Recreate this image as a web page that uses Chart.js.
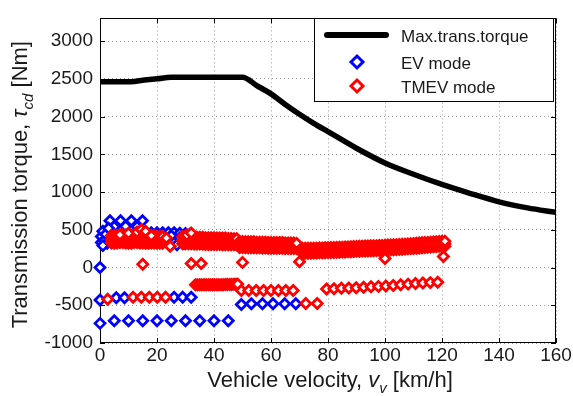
<!DOCTYPE html>
<html>
<head>
<meta charset="utf-8">
<script src="https://cdn.jsdelivr.net/npm/chart.js@4.4.0/dist/chart.umd.min.js"></script>
<style>
  html, body { margin: 0; padding: 0; background: #fff; }
  #wrap { width: 573px; height: 396px; }
</style>
</head>
<body>
<div id="wrap"><canvas id="torqueChart" width="573" height="396"></canvas></div>
<script>
// axis ticks
const xTicks = [0, 20, 40, 60, 80, 100, 120, 140, 160];
const yTicks = [-1000, -500, 0, 500, 1000, 1500, 2000, 2500, 3000];

// max transmission torque curve
const maxTorqueV = [0, 10, 12, 15, 20, 25, 30, 40, 50, 55, 60, 65, 70, 75, 80, 90, 100, 110, 120, 130, 140, 150, 160];
const maxTorqueT = [2460, 2460, 2465, 2480, 2500, 2520, 2520, 2520, 2520, 2410, 2300, 2160, 2030, 1910, 1800, 1580, 1385, 1235, 1100, 980, 870, 790, 730];

// EV mode operating points
const evV = [0, 0, 5, 10, 15, 20, 25, 30, 35, 40, 45,
  0, 5.7, 8.6, 26, 29, 32,
  49.6, 53.1, 57, 60.7, 64.8, 68.7,
  0.5, 0.5, 1, 1.5, 2, 2.5, 1,
  3.5, 7.2, 11, 14.9, 5, 9, 13, 3,
  18, 20, 22, 24, 26, 28, 30, 31.5, 28, 29.5, 27, 21, 25];
const evT = [0, -740, -705, -705, -705, -705, -705, -705, -705, -705, -705,
  -430, -400, -400, -395, -395, -395,
  -490, -480, -480, -480, -480, -480,
  330, 410, 480, 360, 440, 320, 290,
  620, 620, 620, 620, 540, 545, 540, 520,
  460, 460, 460, 460, 460, 455, 450, 440, 390, 320, 300, 400, 420];

// TMEV mode: dense band (upper, middle, lower rows)
const tmevBandV = [
  4, 5, 6, 7, 8, 9, 10, 11, 12, 13, 14, 15, 16, 17, 18, 19, 20, 21, 22,
  29, 30, 31, 32, 33, 34, 35, 36, 37, 38, 39, 40, 41, 42, 43, 44, 45, 46, 47, 48,
  49, 50, 51, 52, 53, 54, 55, 56, 57, 58, 59, 60, 61, 62, 63, 64, 65, 66, 67, 68, 69,
  71, 72, 73, 74, 75, 76, 77, 78, 79, 80,
  81, 82, 83, 84, 85, 86, 87, 88, 89, 90,
  91, 92, 93, 94, 95, 96, 97, 98, 99, 100,
  101, 102, 103, 104, 105, 106, 107, 108, 109, 110,
  111, 112, 113, 114, 115, 116, 117, 118, 119, 120, 121];
const tmevBandHi = [
  420, 425, 425, 430, 435, 430, 425, 425, 430, 430, 425, 425, 420, 420, 420, 420, 415, 410, 410,
  410, 410, 405, 405, 400, 400, 400, 400, 395, 395, 395, 395, 390, 390, 390, 390, 385, 385, 380, 380,
  345, 345, 340, 340, 340, 340, 335, 335, 335, 335, 330, 330, 330, 330, 330, 330, 325, 325, 325, 325, 320,
  255, 255, 255, 255, 257, 257, 259, 259, 261, 262,
  264, 265, 267, 268, 270, 271, 273, 275, 277, 279,
  281, 282, 284, 285, 287, 288, 290, 291, 293, 295,
  297, 299, 301, 303, 305, 307, 310, 312, 315, 318,
  321, 324, 327, 330, 333, 336, 339, 342, 345, 347, 348];
const tmevBandMid = [
  370, 375, 375, 380, 380, 375, 375, 375, 380, 380, 375, 370, 370, 375, 375, 370, 370, 365, 365,
  360, 360, 360, 360, 355, 355, 355, 355, 350, 350, 350, 350, 350, 350, 345, 345, 345, 345, 340, 340,
  305, 305, 300, 300, 300, 300, 300, 300, 295, 295, 295, 295, 295, 295, 290, 290, 290, 290, 290, 290, 285,
  222, 222, 222, 222, 224, 224, 226, 226, 228, 229,
  231, 232, 234, 235, 237, 238, 240, 242, 244, 246,
  248, 249, 251, 252, 254, 255, 257, 258, 260, 262,
  264, 266, 268, 270, 272, 274, 277, 279, 282, 285,
  288, 291, 294, 297, 300, 303, 306, 309, 312, 314, 315];
const tmevBandLo = [
  325, 320, 325, 330, 330, 325, 320, 320, 330, 330, 325, 325, 320, 320, 325, 325, 320, 320, 320,
  315, 315, 315, 315, 310, 310, 310, 310, 305, 305, 305, 305, 305, 305, 300, 300, 300, 300, 300, 300,
  265, 265, 262, 262, 260, 260, 260, 260, 258, 258, 255, 255, 255, 255, 255, 255, 252, 252, 250, 250, 250,
  190, 190, 190, 190, 192, 192, 194, 194, 196, 197,
  199, 200, 202, 203, 205, 206, 208, 210, 212, 214,
  216, 217, 219, 220, 222, 223, 225, 226, 228, 230,
  232, 234, 236, 238, 240, 242, 245, 247, 250, 253,
  256, 259, 262, 265, 268, 271, 274, 277, 280, 282, 283];

// TMEV mode: scattered points and lower rows
const tmevV = [7, 10, 13, 14.5, 16, 18, 23.3, 24.6, 30.5, 32,
  15, 32, 35.5, 50, 70, 100, 120.5,
  2.7, 11.6, 14.5, 17.3, 20.1, 23,
  33.5, 34.2, 35, 35.7, 36.5, 37.2, 38, 38.7, 39.5, 40.2, 41, 41.7, 42.5, 43.2, 44, 44.7, 45.5, 46.2, 47, 47.7, 48.3,
  49.6, 52.2, 54.8, 57.4, 60, 62.6, 65.2, 67.8,
  72.2, 76.2,
  79.5, 82.1, 84.7, 87.3, 89.9, 92.5, 95.1, 97.7, 100.3, 102.9, 105.5, 108.1, 110.7, 113.3, 115.9, 118.5];
const tmevT = [435, 455, 470, 500, 480, 420, 390, 283, 430, 456,
  43, 52, 52, 68, 75, 120, 145,
  -420, -395, -395, -395, -395, -395,
  -228, -228, -228, -228, -228, -228, -228, -228, -228, -228, -228, -228, -228, -228, -226, -226, -224, -224, -222, -222, -220,
  -305, -305, -305, -305, -305, -305, -305, -305,
  -478, -478,
  -285, -280, -276, -272, -268, -262, -256, -250, -244, -237, -228, -220, -212, -205, -200, -196];

function pairs(xs, ys) {
  return xs.map((x, i) => ({ x: x, y: ys[i] }));
}

const FONT = "'Liberation Sans', Arial, Helvetica, sans-serif";
const TXT = '#1a1a1a';
const BLUE = 'rgb(0,0,255)';
const RED = 'rgb(255,0,0)';

Chart.defaults.font.family = FONT;
Chart.defaults.color = TXT;

// draws a label made of normal / italic / subscript pieces, centred on x
function drawRich(ctx, parts, x, y, size) {
  const fontOf = p => (p.italic ? 'italic ' : '') + Math.round(p.sub ? size * 0.68 : size) + 'px ' + FONT;
  let total = 0;
  parts.forEach(p => { ctx.font = fontOf(p); total += ctx.measureText(p.t).width; });
  let cx = x - total / 2;
  ctx.textAlign = 'left';
  ctx.textBaseline = 'alphabetic';
  parts.forEach(p => {
    ctx.font = fontOf(p);
    ctx.fillText(p.t, cx, y + (p.sub ? size * 0.25 : 0));
    cx += ctx.measureText(p.t).width;
  });
}

function diamond(ctx, x, y, r, color, lw) {
  ctx.beginPath();
  ctx.moveTo(x, y - r);
  ctx.lineTo(x + r, y);
  ctx.lineTo(x, y + r);
  ctx.lineTo(x - r, y);
  ctx.closePath();
  ctx.fillStyle = '#fff';
  ctx.fill();
  ctx.lineWidth = lw;
  ctx.strokeStyle = color;
  ctx.stroke();
}

const framePlugin = {
  id: 'frame',
  beforeDatasetsDraw(chart) {
    const { ctx, chartArea: a, scales } = chart;
    ctx.save();
    ctx.strokeStyle = '#000';
    ctx.lineWidth = 1;
    ctx.beginPath();
    xTicks.forEach(v => {
      const px = Math.round(scales.x.getPixelForValue(v)) + 0.5;
      ctx.moveTo(px, a.bottom); ctx.lineTo(px, a.bottom - 5);
      ctx.moveTo(px, a.top); ctx.lineTo(px, a.top + 5);
    });
    yTicks.forEach(v => {
      const py = Math.round(scales.y.getPixelForValue(v)) + 0.5;
      ctx.moveTo(a.left, py); ctx.lineTo(a.left + 5, py);
      ctx.moveTo(a.right, py); ctx.lineTo(a.right - 5, py);
    });
    ctx.stroke();
    ctx.strokeRect(Math.round(a.left) + 0.5, Math.round(a.top) + 0.5,
      Math.round(a.width) - 1, Math.round(a.height) - 1);
    ctx.restore();
  },
  afterDraw(chart) {
    const { ctx, chartArea: a } = chart;
    ctx.save();
    ctx.fillStyle = TXT;
    // axis titles
    drawRich(ctx, [
      { t: 'Vehicle velocity, ' },
      { t: 'v', italic: true },
      { t: 'v', italic: true, sub: true },
      { t: ' [km/h]' }
    ], (a.left + a.right) / 2 + 2, 387, 22);
    ctx.save();
    ctx.translate(27, (a.top + a.bottom) / 2 + 4);
    ctx.rotate(-Math.PI / 2);
    ctx.fillStyle = TXT;
    drawRich(ctx, [
      { t: 'Transmission torque, ' },
      { t: '\u03c4', italic: true },
      { t: 'cd', italic: true, sub: true },
      { t: ' [Nm]' }
    ], 0, 0, 22);
    ctx.restore();

    // legend
    const lx = 314, ly = 18, lw = 239, lh = 83;
    ctx.fillStyle = '#fff';
    ctx.fillRect(lx, ly, lw, lh);
    ctx.strokeStyle = '#000';
    ctx.lineWidth = 1;
    ctx.strokeRect(lx + 0.5, ly + 0.5, lw, lh);
    ctx.beginPath();
    ctx.lineCap = 'round';
    ctx.lineWidth = 6;
    ctx.moveTo(327, 35);
    ctx.lineTo(386, 35);
    ctx.stroke();
    diamond(ctx, 357, 62, 6, BLUE, 3);
    diamond(ctx, 357, 86, 6, RED, 3);
    ctx.fillStyle = TXT;
    ctx.font = '17px ' + FONT;
    ctx.textAlign = 'left';
    ctx.textBaseline = 'alphabetic';
    ctx.fillText('Max.trans.torque', 401, 42);
    ctx.fillText('EV mode', 401, 68.5);
    ctx.fillText('TMEV mode', 401, 92.5);
    ctx.restore();
  }
};

const markerStyle = {
  pointStyle: 'rectRot',
  pointRadius: 5,
  pointBorderWidth: 2.8,
  pointBackgroundColor: '#fff',
  pointHoverRadius: 5,
  showLine: false,
  clip: false
};

new Chart(document.getElementById('torqueChart'), {
  type: 'scatter',
  data: {
    datasets: [
      {
        type: 'line',
        label: 'Max.trans.torque',
        data: pairs(maxTorqueV, maxTorqueT),
        borderColor: '#000',
        borderWidth: 5.5,
        pointRadius: 0,
        cubicInterpolationMode: 'monotone',
        showLine: true,
        fill: false,
        order: 0
      },
      Object.assign({
        label: 'TMEV mode',
        data: pairs(tmevBandV, tmevBandLo).concat(
          pairs(tmevBandV, tmevBandMid),
          pairs(tmevBandV, tmevBandHi),
          pairs(tmevV, tmevT)),
        borderColor: RED,
        pointBorderColor: RED,
        order: 1
      }, markerStyle),
      Object.assign({
        label: 'EV mode',
        data: pairs(evV, evT),
        borderColor: BLUE,
        pointBorderColor: BLUE,
        order: 2
      }, markerStyle)
    ]
  },
  options: {
    responsive: false,
    animation: false,
    devicePixelRatio: 1,
    layout: { padding: { left: 0, right: 17, top: 12, bottom: 0 } },
    plugins: {
      legend: { display: false },
      tooltip: { enabled: false }
    },
    scales: {
      x: {
        type: 'linear',
        min: 0,
        max: 160,
        afterFit: s => { s.height = 53; },
        afterBuildTicks: s => { s.ticks = xTicks.map(v => ({ value: v })); },
        ticks: { autoSkip: false, padding: 1, color: TXT, font: { size: 19 }, callback: v => String(v) },
        grid: { color: '#9a9a9a', lineWidth: 1, drawTicks: false },
        border: { display: false, dash: [1, 3] }
      },
      y: {
        type: 'linear',
        min: -1000,
        max: 3300,
        afterFit: s => { s.width = 100; },
        afterBuildTicks: s => { s.ticks = yTicks.map(v => ({ value: v })); },
        ticks: { autoSkip: false, padding: 7, color: TXT, font: { size: 19 }, callback: v => String(v) },
        grid: { color: '#9a9a9a', lineWidth: 1, drawTicks: false },
        border: { display: false, dash: [1, 3] }
      }
    }
  },
  plugins: [framePlugin]
});
</script>
</body>
</html>
